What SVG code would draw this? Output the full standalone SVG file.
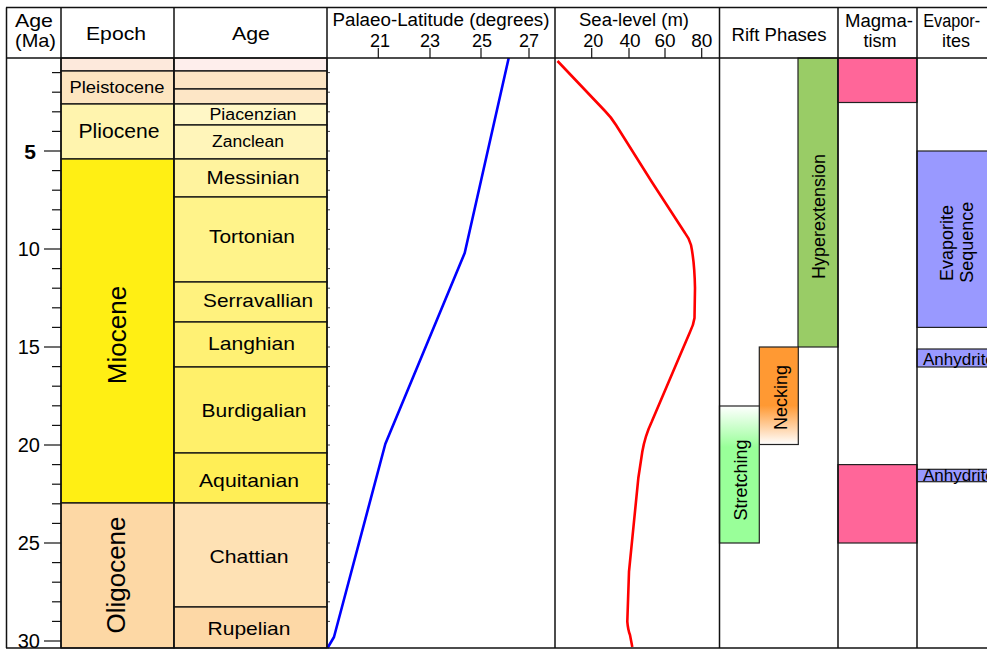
<svg xmlns="http://www.w3.org/2000/svg" width="987" height="650" viewBox="0 0 987 650">
<defs>
<style>
text{font-family:"Liberation Sans",Arial,Helvetica,sans-serif;fill:#000}
.hd{font-size:18px;text-anchor:middle}
.ag{font-size:19px;text-anchor:middle}
.ax{font-size:20px;text-anchor:end}
.cell{stroke:#111;stroke-width:1.3}
.grid{stroke:#111;stroke-width:1.5;fill:none}
.tk{stroke:#111;stroke-width:1.2}
.box{stroke:#222;stroke-width:1.2}
</style>
<linearGradient id="gNeck" x1="0" y1="0" x2="0" y2="1">
<stop offset="0" stop-color="#FF9933"/>
<stop offset="0.6" stop-color="#FF9933"/>
<stop offset="1" stop-color="#FFFFFF"/>
</linearGradient>
<linearGradient id="gStr" x1="0" y1="0" x2="0" y2="1">
<stop offset="0" stop-color="#FFFFFF"/>
<stop offset="0.3" stop-color="#99FF99"/>
<stop offset="1" stop-color="#99FF99"/>
</linearGradient>
</defs>
<rect x="0" y="0" width="987" height="650" fill="#fff"/>

<!-- Epoch column -->
<g id="epochs">
<rect class="cell" x="61" y="58" width="113" height="13" fill="#FDE9DC"/>
<rect class="cell" x="61" y="71" width="113" height="33" fill="#FDE5C0"/>
<rect class="cell" x="61" y="104" width="113" height="55" fill="#FFF4AE"/>
<rect class="cell" x="61" y="159" width="113" height="344" fill="#FFEF14"/>
<rect class="cell" x="61" y="503" width="113" height="145" fill="#FDD8A5"/>
<text x="117" y="93" style="font-size:16px" text-anchor="middle" textLength="95" lengthAdjust="spacingAndGlyphs">Pleistocene</text>
<text x="119" y="138" style="font-size:21px" text-anchor="middle" textLength="81" lengthAdjust="spacingAndGlyphs">Pliocene</text>
<text transform="translate(126,335) rotate(-90)" style="font-size:26px" text-anchor="middle">Miocene</text>
<text transform="translate(125,575) rotate(-90)" style="font-size:26px" text-anchor="middle">Oligocene</text>
</g>

<!-- Age column -->
<g id="ages">
<rect class="cell" x="174" y="58" width="153" height="13" fill="#FEEEEC"/>
<rect class="cell" x="174" y="71" width="153" height="18" fill="#FDE5C4"/>
<rect class="cell" x="174" y="89" width="153" height="15" fill="#FDE6C6"/>
<rect class="cell" x="174" y="104" width="153" height="21" fill="#FFF7C6"/>
<rect class="cell" x="174" y="125" width="153" height="34" fill="#FFF5BA"/>
<rect class="cell" x="174" y="159" width="153" height="38" fill="#FFF39E"/>
<rect class="cell" x="174" y="197" width="153" height="85" fill="#FFF38A"/>
<rect class="cell" x="174" y="282" width="153" height="40" fill="#FFF27E"/>
<rect class="cell" x="174" y="322" width="153" height="45" fill="#FFF174"/>
<rect class="cell" x="174" y="367" width="153" height="86" fill="#FFF06A"/>
<rect class="cell" x="174" y="453" width="153" height="50" fill="#FFEE56"/>
<rect class="cell" x="174" y="503" width="153" height="104" fill="#FEE1B4"/>
<rect class="cell" x="174" y="607" width="153" height="41" fill="#FDD8A6"/>
<text x="253" y="120" style="font-size:16px" text-anchor="middle" textLength="87" lengthAdjust="spacingAndGlyphs">Piacenzian</text>
<text x="248" y="147" style="font-size:16px" text-anchor="middle" textLength="72" lengthAdjust="spacingAndGlyphs">Zanclean</text>
<text x="253" y="184" class="ag" textLength="93" lengthAdjust="spacingAndGlyphs">Messinian</text>
<text x="252" y="243" class="ag" textLength="86" lengthAdjust="spacingAndGlyphs">Tortonian</text>
<text x="258" y="307" class="ag" textLength="110" lengthAdjust="spacingAndGlyphs">Serravallian</text>
<text x="251.5" y="350" class="ag" textLength="87" lengthAdjust="spacingAndGlyphs">Langhian</text>
<text x="254" y="417" class="ag" textLength="105" lengthAdjust="spacingAndGlyphs">Burdigalian</text>
<text x="249" y="487" class="ag" textLength="100" lengthAdjust="spacingAndGlyphs">Aquitanian</text>
<text x="249" y="563" class="ag" textLength="79" lengthAdjust="spacingAndGlyphs">Chattian</text>
<text x="249" y="635" class="ag" textLength="83" lengthAdjust="spacingAndGlyphs">Rupelian</text>
</g>

<!-- Age axis -->
<g id="age-axis">
<g class="tk">
<line x1="52" y1="72.6" x2="61" y2="72.6"/>
<line x1="52" y1="92.2" x2="61" y2="92.2"/>
<line x1="52" y1="111.8" x2="61" y2="111.8"/>
<line x1="52" y1="131.4" x2="61" y2="131.4"/>
<line x1="44" y1="151" x2="61" y2="151"/>
<line x1="52" y1="170.6" x2="61" y2="170.6"/>
<line x1="52" y1="190.2" x2="61" y2="190.2"/>
<line x1="52" y1="209.8" x2="61" y2="209.8"/>
<line x1="52" y1="229.4" x2="61" y2="229.4"/>
<line x1="44" y1="249" x2="61" y2="249"/>
<line x1="52" y1="268.6" x2="61" y2="268.6"/>
<line x1="52" y1="288.2" x2="61" y2="288.2"/>
<line x1="52" y1="307.8" x2="61" y2="307.8"/>
<line x1="52" y1="327.4" x2="61" y2="327.4"/>
<line x1="44" y1="347" x2="61" y2="347"/>
<line x1="52" y1="366.6" x2="61" y2="366.6"/>
<line x1="52" y1="386.2" x2="61" y2="386.2"/>
<line x1="52" y1="405.8" x2="61" y2="405.8"/>
<line x1="52" y1="425.4" x2="61" y2="425.4"/>
<line x1="44" y1="445" x2="61" y2="445"/>
<line x1="52" y1="464.6" x2="61" y2="464.6"/>
<line x1="52" y1="484.2" x2="61" y2="484.2"/>
<line x1="52" y1="503.8" x2="61" y2="503.8"/>
<line x1="52" y1="523.4" x2="61" y2="523.4"/>
<line x1="44" y1="543" x2="61" y2="543"/>
<line x1="52" y1="562.6" x2="61" y2="562.6"/>
<line x1="52" y1="582.2" x2="61" y2="582.2"/>
<line x1="52" y1="601.8" x2="61" y2="601.8"/>
<line x1="52" y1="621.4" x2="61" y2="621.4"/>
<line x1="44" y1="641" x2="61" y2="641"/>
</g>
<text x="36" y="158.5" class="ax" style="font-weight:bold;font-size:21px">5</text>
<text x="40" y="256" class="ax">10</text>
<text x="40" y="354" class="ax">15</text>
<text x="40" y="452" class="ax">20</text>
<text x="40" y="550" class="ax">25</text>
<text x="40" y="647.5" class="ax">30</text>
</g>

<!-- Palaeo-latitude -->
<g id="palaeo-latitude">
<g class="tk">
<line x1="378.3" y1="48" x2="378.3" y2="58"/>
<line x1="430" y1="48" x2="430" y2="58"/>
<line x1="481" y1="48" x2="481" y2="58"/>
<line x1="529" y1="48" x2="529" y2="58"/>
</g>
<g stroke="#444" stroke-width="1">
<line x1="327" y1="72.6" x2="330" y2="72.6"/><line x1="327" y1="92.2" x2="330" y2="92.2"/><line x1="327" y1="111.8" x2="330" y2="111.8"/><line x1="327" y1="131.4" x2="330" y2="131.4"/><line x1="327" y1="151" x2="330" y2="151"/><line x1="327" y1="170.6" x2="330" y2="170.6"/><line x1="327" y1="190.2" x2="330" y2="190.2"/><line x1="327" y1="209.8" x2="330" y2="209.8"/><line x1="327" y1="229.4" x2="330" y2="229.4"/><line x1="327" y1="249" x2="330" y2="249"/><line x1="327" y1="268.6" x2="330" y2="268.6"/><line x1="327" y1="288.2" x2="330" y2="288.2"/><line x1="327" y1="307.8" x2="330" y2="307.8"/><line x1="327" y1="327.4" x2="330" y2="327.4"/><line x1="327" y1="347" x2="330" y2="347"/><line x1="327" y1="366.6" x2="330" y2="366.6"/><line x1="327" y1="386.2" x2="330" y2="386.2"/><line x1="327" y1="405.8" x2="330" y2="405.8"/><line x1="327" y1="425.4" x2="330" y2="425.4"/><line x1="327" y1="445" x2="330" y2="445"/><line x1="327" y1="464.6" x2="330" y2="464.6"/><line x1="327" y1="484.2" x2="330" y2="484.2"/><line x1="327" y1="503.8" x2="330" y2="503.8"/><line x1="327" y1="523.4" x2="330" y2="523.4"/><line x1="327" y1="543" x2="330" y2="543"/><line x1="327" y1="562.6" x2="330" y2="562.6"/><line x1="327" y1="582.2" x2="330" y2="582.2"/><line x1="327" y1="601.8" x2="330" y2="601.8"/><line x1="327" y1="621.4" x2="330" y2="621.4"/>
</g>
<text x="441" y="26" class="hd" textLength="217" lengthAdjust="spacingAndGlyphs">Palaeo-Latitude (degrees)</text>
<text x="380" y="46.5" class="hd">21</text>
<text x="430" y="46.5" class="hd">23</text>
<text x="482" y="46.5" class="hd">25</text>
<text x="529" y="46.5" class="hd">27</text>
<path d="M508.7,58 L464.7,253 L385.3,444 L334,637 L327.5,648" fill="none" stroke="#0000FF" stroke-width="2.6" stroke-linejoin="round"/>
</g>

<!-- Sea-level -->
<g id="sea-level">
<g class="tk">
<line x1="591.7" y1="48" x2="591.7" y2="58"/>
<line x1="629" y1="48" x2="629" y2="58"/>
<line x1="665" y1="48" x2="665" y2="58"/>
<line x1="701.7" y1="48" x2="701.7" y2="58"/>
</g>
<text x="634" y="26" class="hd" textLength="110" lengthAdjust="spacingAndGlyphs">Sea-level (m)</text>
<text x="593.3" y="46.5" class="hd">20</text>
<text x="630" y="47" class="hd" style="font-size:19px">40</text>
<text x="665" y="47" class="hd" style="font-size:19px">60</text>
<text x="701.7" y="47" class="hd" style="font-size:19px">80</text>
<path d="M557.5,61 L605,111 Q611,117 616,125 L651.7,181.7 L685,233 Q689,238 691,245 Q694.5,262 695,288 L694.5,318 Q693.5,325 690,332 L681,353 L651.7,421.7 Q645,436 642.3,451.7 L638.3,478.3 L629,571.7 L627.3,621.7 Q628,630 630,635 L632.3,647" fill="none" stroke="#FF0000" stroke-width="2.6" stroke-linejoin="round"/>
</g>

<!-- Rift phases -->
<g id="rift-hyperextension">
<rect class="box" x="798" y="58" width="40" height="289" fill="#99CC66"/>
<text transform="translate(825,216.5) rotate(-90)" style="font-size:18px" text-anchor="middle">Hyperextension</text>
</g>
<g id="rift-necking">
<rect class="box" x="759.3" y="347" width="39" height="97.5" fill="url(#gNeck)"/>
<text transform="translate(787,397.5) rotate(-90)" style="font-size:18px" text-anchor="middle">Necking</text>
</g>
<g id="rift-stretching">
<rect class="box" x="719.5" y="406" width="39.8" height="137" fill="url(#gStr)"/>
<text transform="translate(747,480) rotate(-90)" style="font-size:18px" text-anchor="middle">Stretching</text>
</g>

<!-- Magmatism -->
<g id="magmatism">
<rect class="box" x="838" y="58" width="79" height="44.5" fill="#FF6699"/>
<rect class="box" x="838" y="464.6" width="79" height="78.4" fill="#FF6699"/>
</g>

<!-- Evaporites -->
<g id="evaporites">
<rect class="box" x="917" y="151" width="75" height="176.4" fill="#9999FF"/>
<text transform="translate(953,243) rotate(-90)" style="font-size:18px" text-anchor="middle">Evaporite</text>
<text transform="translate(973,242.3) rotate(-90)" style="font-size:18px" text-anchor="middle">Sequence</text>
<rect class="box" x="917" y="349" width="75" height="18" fill="#9999FF"/>
<text x="923" y="364.5" style="font-size:17px">Anhydrite</text>
<rect class="box" x="917" y="469.3" width="75" height="12.4" fill="#9999FF"/>
<text x="923" y="481" style="font-size:17px">Anhydrite</text>
</g>

<!-- Headers -->
<g id="headers">
<text x="34" y="26.5" class="hd" style="font-size:19px" textLength="38" lengthAdjust="spacingAndGlyphs">Age</text>
<text x="35.5" y="46.5" class="hd" style="font-size:19px" textLength="41" lengthAdjust="spacingAndGlyphs">(Ma)</text>
<text x="116" y="40" class="hd" style="font-size:19px" textLength="60" lengthAdjust="spacingAndGlyphs">Epoch</text>
<text x="251" y="40" class="hd" style="font-size:19px" textLength="38" lengthAdjust="spacingAndGlyphs">Age</text>
<text x="779" y="41" class="hd" textLength="95" lengthAdjust="spacingAndGlyphs">Rift Phases</text>
<text x="879" y="26.5" class="hd" textLength="68" lengthAdjust="spacingAndGlyphs">Magma-</text>
<text x="880" y="46.5" class="hd">tism</text>
<text x="951.7" y="26.5" class="hd" textLength="57" lengthAdjust="spacingAndGlyphs">Evapor-</text>
<text x="956" y="46.5" class="hd">ites</text>
</g>

<!-- Grid lines -->
<g id="grid" class="grid">
<line x1="6" y1="7.5" x2="987" y2="7.5"/>
<line x1="6" y1="58" x2="987" y2="58"/>
<line x1="6" y1="648" x2="987" y2="648"/>
<line x1="6.5" y1="7.5" x2="6.5" y2="648"/>
<line x1="61" y1="7.5" x2="61" y2="648"/>
<line x1="174" y1="7.5" x2="174" y2="648"/>
<line x1="327" y1="7.5" x2="327" y2="648"/>
<line x1="555" y1="7.5" x2="555" y2="648"/>
<line x1="719.5" y1="7.5" x2="719.5" y2="648"/>
<line x1="838" y1="7.5" x2="838" y2="648"/>
<line x1="917" y1="7.5" x2="917" y2="648"/>
</g>
</svg>
